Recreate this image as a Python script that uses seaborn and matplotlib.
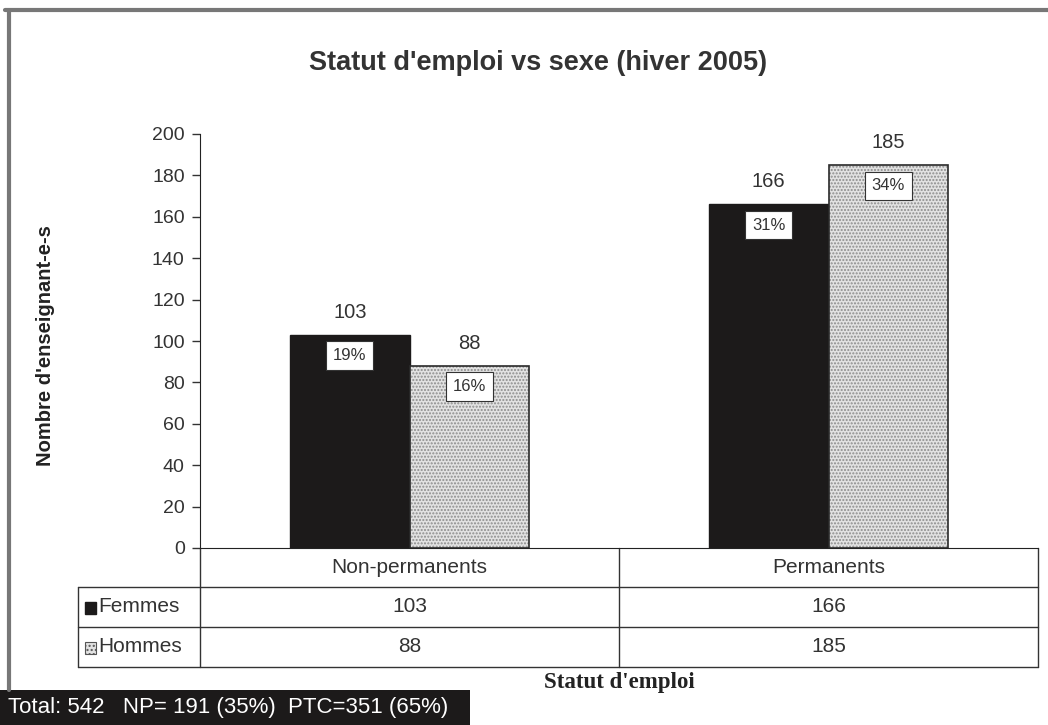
# -*- coding: utf-8 -*-
import numpy as np
import pandas as pd
import matplotlib.pyplot as plt
from matplotlib.lines import Line2D
from matplotlib.patches import Rectangle
import seaborn as sns

categories = ['Non-permanents', 'Permanents']
sexes = ['Femmes', 'Hommes']
femmes = [103, 166]
hommes = [88, 185]
pct_femmes = ['19%', '31%']
pct_hommes = ['16%', '34%']
y_ticks = [0, 20, 40, 60, 80, 100, 120, 140, 160, 180, 200]
footer = "Total: 542   NP= 191 (35%)  PTC=351 (65%)"


def main():

        sns.set_style("white")
        plt.rcParams['font.family'] = ['Liberation Sans', 'DejaVu Sans']

        df = pd.DataFrame({
                'statut': categories * 2,
                'sexe': [sexes[0]] * 2 + [sexes[1]] * 2,
                'n': femmes + hommes,
        })

        fig = plt.figure(figsize=(10.48, 7.25), dpi=100)
        ax = fig.add_axes([200 / 1048, 177 / 725, 838 / 1048, 414 / 725])

        sns.barplot(data=df, x='statut', y='n', hue='sexe', palette=['#1c1a1a', '#e2e2e2'],
                    width=0.57, edgecolor='#1c1a1a', linewidth=1, legend=False, ax=ax)

        # stippled Hommes bars: grey dots, then a dark outline on top
        for p in ax.containers[1]:
                p.set_edgecolor('#8c8c8c')
                p.set_hatch('.....')
                p.set_linewidth(0)
                ax.add_patch(Rectangle((p.get_x(), p.get_y()), p.get_width(), p.get_height(),
                                       fill=False, edgecolor='#2a2a2a', linewidth=1.2, zorder=3))

        ax.set_ylim(0, 200)
        ax.set_xlim(-0.5, 1.5)
        ax.set_yticks(y_ticks)
        ax.set_xticks([])
        ax.set_xlabel('')
        ax.tick_params(axis='y', direction='out', length=6, width=1, color='#333333',
                       left=True, labelsize=14, labelcolor='#333333', pad=5)
        for s in ['top', 'right']:
                ax.spines[s].set_visible(False)
        ax.spines['left'].set_color('#222222')
        ax.spines['bottom'].set_color('#222222')

        ax.set_ylabel("Nombre d'enseignant-e-s", fontsize=14.5, fontweight='bold', color='#222222')
        ax.yaxis.set_label_coords(-0.173, 0.49)

        # value labels and percentage boxes
        for cont, vals, pcts in [(ax.containers[0], femmes, pct_femmes), (ax.containers[1], hommes, pct_hommes)]:
                for p, v, pc in zip(cont, vals, pcts):
                        cx = p.get_x() + p.get_width() / 2
                        ax.text(cx, v + 11, str(v), ha='center', va='center', fontsize=14.5, color='#333333')
                        ax.text(cx, v - 10, pc, ha='center', va='center', fontsize=12, color='#333333', zorder=5,
                                bbox=dict(boxstyle='square,pad=0.4', facecolor='white', edgecolor='#333333', linewidth=0.8))

        # data table under the axis
        lc = '#333333'
        tr = ax.transAxes
        y_hdr, y_f, y_h = -0.0942, -0.1908, -0.2874
        x_lab = -0.1456
        lines = [
                ([0, 0], [0, y_h]),
                ([0.5, 0.5], [0, y_h]),
                ([1, 1], [0, y_h]),
                ([x_lab, 1], [y_hdr, y_hdr]),
                ([x_lab, 1], [y_f, y_f]),
                ([x_lab, 1], [y_h, y_h]),
                ([x_lab, x_lab], [y_hdr, y_h]),
        ]
        for xs, ys in lines:
                ax.add_line(Line2D(xs, ys, transform=tr, color=lc, linewidth=1, clip_on=False))

        bl = ax.get_xaxis_transform()
        tkw = dict(transform=bl, ha='center', va='center', fontsize=15, color='#333333')
        for i, cat in enumerate(categories):
                ax.text(i, y_hdr / 2, cat, **tkw)
                ax.text(i, (y_hdr + y_f) / 2, str(femmes[i]), **tkw)
                ax.text(i, (y_f + y_h) / 2, str(hommes[i]), **tkw)

        sq = 0.013
        ax.add_patch(Rectangle((x_lab + 0.008, (y_hdr + y_f) / 2 - 0.017), sq, 0.03, transform=tr,
                               facecolor='#1c1a1a', edgecolor='#1c1a1a', clip_on=False))
        ax.add_patch(Rectangle((x_lab + 0.008, (y_f + y_h) / 2 - 0.017), sq, 0.03, transform=tr,
                               facecolor='#e2e2e2', edgecolor='#555555', hatch='....', linewidth=0.8, clip_on=False))
        ax.text(x_lab + 0.024, (y_hdr + y_f) / 2, sexes[0], transform=tr, ha='left', va='center', fontsize=15, color='#333333')
        ax.text(x_lab + 0.024, (y_f + y_h) / 2, sexes[1], transform=tr, ha='left', va='center', fontsize=15, color='#333333')

        ax.text(0.5, -0.326, "Statut d'emploi", transform=tr, ha='center', va='center',
                fontsize=16.5, fontweight='bold', family='Liberation Serif', color='#222222')

        fig.text(0.513, 1 - 63 / 725, "Statut d'emploi vs sexe (hiver 2005)", ha='center', va='center',
                 fontsize=19.5, fontweight='bold', color='#333333')

        # frame lines of the original sheet
        fig.add_artist(Line2D([5 / 1048, 1], [1 - 10 / 725] * 2, color='#777777', linewidth=3))
        fig.add_artist(Line2D([9 / 1048] * 2, [35 / 725, 1 - 10 / 725], color='#777777', linewidth=3))

        fig.add_artist(Rectangle((0, 0), 470 / 1048, 35 / 725, transform=fig.transFigure,
                                 facecolor='#1c1a1a', edgecolor='none'))
        fig.text(8 / 1048, 17 / 725, footer, ha='left', va='center', fontsize=16, color='white')

        fig.savefig('out.png', dpi=100)


if __name__ == "__main__":
        main()
